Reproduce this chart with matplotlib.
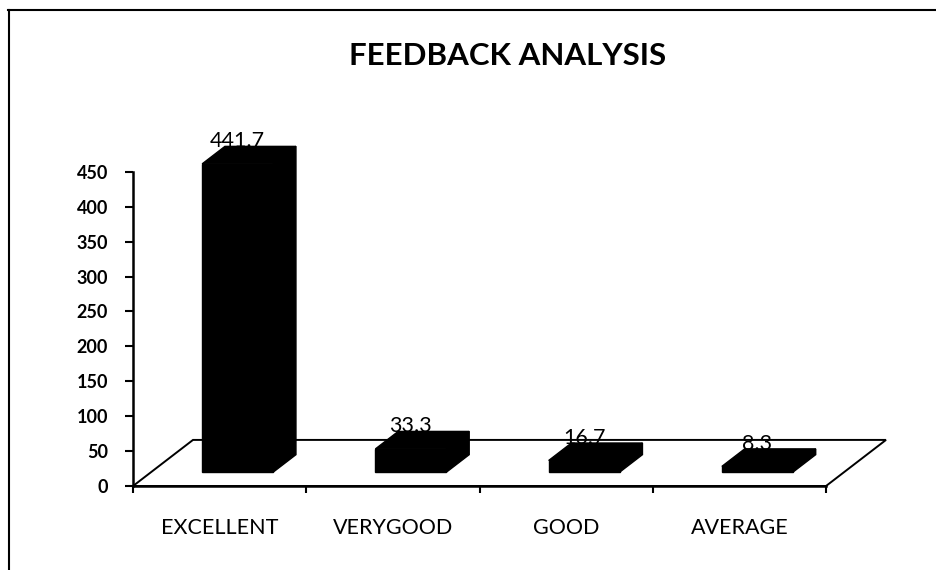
import matplotlib
matplotlib.use('Agg')
import matplotlib.pyplot as plt
from matplotlib.patches import Polygon
from matplotlib.lines import Line2D

categories = ['EXCELLENT', 'VERYGOOD', 'GOOD', 'AVERAGE']
scores = [441.7, 33.3, 16.7, 8.3]
y_ticks = [0, 50, 100, 150, 200, 250, 300, 350, 400, 450]

plt.rcParams['font.family'] = ['Lato', 'DejaVu Sans']

# fake 3d: floor depth in data units, bars sit between D0 and D1 of it
DX = 0.346
DY = 66
D0, D1 = 0.30, 0.68
BAR_W = 0.41

fig = plt.figure(figsize=(9.37, 5.70), dpi=100)
ax = fig.add_axes([0.142, 0.1474, 0.7396, 0.551])
ax.set_xlim(-0.5, len(categories) - 0.5)
ax.set_ylim(0, 450)

# floor
x0, x1 = ax.get_xlim()
floor = Polygon([(x0, 0), (x0 + DX, DY), (x1 + DX, DY), (x1, 0)],
                closed=True, facecolor='white', edgecolor='black',
                linewidth=1.4, clip_on=False, zorder=1)
ax.add_patch(floor)

xs = [i + D0 * DX for i in range(len(categories))]
base = D0 * DY
ddx = (D1 - D0) * DX
ddy = (D1 - D0) * DY
ax.bar(xs, scores, width=BAR_W, bottom=base, color='black',
       edgecolor='black', clip_on=False, zorder=3)

for x, v in zip(xs, scores):
    l, r = x - BAR_W / 2, x + BAR_W / 2
    top = base + v
    side = [(r, base), (r + ddx, base + ddy), (r + ddx, top + ddy), (r, top)]
    lid = [(l, top), (l + ddx, top + ddy), (r + ddx, top + ddy), (r, top)]
    for pts in (side, lid):
        ax.add_patch(Polygon(pts, closed=True, facecolor='black',
                             edgecolor='black', clip_on=False, zorder=3))
    ax.text(x, top + ddy - 1, f'{v}', ha='center', va='baseline',
            fontsize=15.5, zorder=4, clip_on=False)

ax.set_yticks(y_ticks)
ax.tick_params(axis='y', direction='out', length=6, width=1.5, pad=12,
               labelsize=13)
for lab in ax.get_yticklabels():
    lab.set_fontweight('bold')

ax.set_xticks(range(len(categories)))
ax.set_xticklabels(categories)
ax.set_xticks([i - 0.5 for i in range(len(categories) + 1)], minor=True)
ax.tick_params(axis='x', which='major', length=0, pad=23, labelsize=15.5)
ax.tick_params(axis='x', which='minor', direction='out', length=5, width=1.5)

for s in ('top', 'right'):
    ax.spines[s].set_visible(False)
ax.spines['left'].set_linewidth(1.8)
ax.spines['bottom'].set_linewidth(1.8)
ax.spines['left'].set_zorder(5)
ax.spines['bottom'].set_zorder(5)

fig.text(508 / 937, 1 - 56 / 570, 'FEEDBACK ANALYSIS', ha='center',
         va='center', fontsize=22.5, fontweight='bold')

# chart frame (only top and left edges show)
fig.add_artist(Line2D([8 / 937, 1], [1 - 10 / 570, 1 - 10 / 570],
                      color='black', linewidth=1.5))
fig.add_artist(Line2D([9 / 937, 9 / 937], [0, 1 - 10 / 570],
                      color='black', linewidth=1.5))

fig.savefig('out.png', dpi=100)
